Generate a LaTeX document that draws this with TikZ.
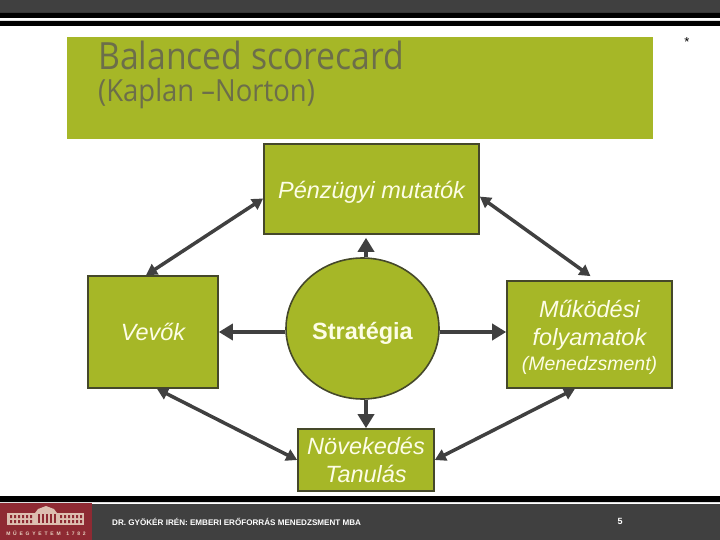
\documentclass[tikz,border=0pt]{standalone}
\usepackage{fontspec}
\setmainfont{Liberation Sans}
\newfontfamily\titlefont[FakeStretch=0.9]{Open Sans}
\usetikzlibrary{arrows.meta,shapes.geometric}
\definecolor{olive}{HTML}{A6B727}
\definecolor{rim}{HTML}{45482A}
\definecolor{bar}{HTML}{404040}
\definecolor{wine}{HTML}{8E2A33}
\definecolor{cream}{HTML}{FDFDE6}
\definecolor{titlegray}{HTML}{6C6E4A}
\begin{document}
\begin{tikzpicture}[x=1pt,y=-1pt,
    box/.style={draw=rim,line width=1.6pt,fill=olive,text=cream,inner sep=0pt,align=center,font=\itshape\fontsize{23.5}{28}\selectfont},
    big/.style={draw=bar,line width=4pt,-{Triangle[length=14pt,width=16pt]}},
    both/.style={draw=bar,line width=3.5pt,{Triangle[length=11pt,width=12pt]}-{Triangle[length=11pt,width=12pt]}}]
  \useasboundingbox (0,0) rectangle (720,540);
  % bars
  \fill[bar] (0,0) rectangle (720,13);
  \fill[black] (0,13) rectangle (720,18) (0,21) rectangle (720,26) (0,496) rectangle (720,502);
  \fill[bar] (0,504) rectangle (720,540);
  \fill[wine] (0,503) rectangle (92,540);
  % logo
  \fill[cream!70!wine] (7,513) rectangle (84,525);
  \fill[cream!70!wine] (35,513) -- (38,509) -- (46,506) -- (54,509) -- (57,513) -- cycle;
  \foreach \x in {10,14,...,30,60,64,...,80}
    \fill[wine] (\x,515) rectangle +(2,3) (\x,520) rectangle +(2,3);
  \foreach \x in {38,42,...,54}
    \fill[wine] (\x,514) rectangle +(2,9);
  \node[text=cream!80!wine,font=\bfseries\fontsize{5}{6}\selectfont] (logotext) at (46,533) {M \ Ű \ E \ G \ Y \ E \ T \ E \ M \ \ \ 1 \ 7 \ 8 \ 2};
  % title
  \fill[olive] (67,37) rectangle (653,139);
  \node[anchor=base west,text=titlegray,inner sep=0pt,font=\titlefont\fontsize{37.5}{37}\selectfont] (title) at (98,70) {Balanced scorecard};
  \node[anchor=base west,text=titlegray,inner sep=0pt,font=\titlefont\fontsize{30.5}{30}\selectfont] (subtitle) at (98,102) {(Kaplan –Norton)};
  \node[font=\fontsize{13}{13}\selectfont] (star) at (687,42) {*};
  % boxes
  \node[box,minimum width=215pt,minimum height=90pt] (penz) at (371.5,189) {\rule{0pt}{24pt}Pénzügyi mutatók};
  \node[box,minimum width=130pt,minimum height=112pt] (vevok) at (153,332) {Vevők};
  \node[box,minimum width=165pt,minimum height=107pt] (mukodes) at (589.5,334.5) {\rule{0pt}{24pt}Működési\\folyamatok\\[-3pt]{\fontsize{19.5}{22}\selectfont (Menedzsment)}};
  \node[box,minimum width=136pt,minimum height=62pt] (novekedes) at (366,460) {Növekedés\\Tanulás};
  \node[draw=rim,line width=1.6pt,fill=olive,text=cream,ellipse,minimum width=153pt,minimum height=141pt,inner sep=0pt,font=\bfseries\fontsize{23.5}{24}\selectfont] (strat) at (362.5,328.5) {\rule{0pt}{26pt}Stratégia};
  % arrows
  \draw[big,shorten >=3pt] (novekedes.north |- strat.north) -- (novekedes.north |- penz.south);
  \draw[big] (strat.west |- vevok.east) -- (vevok.east);
  \draw[big] (strat.east |- vevok.east) -- (mukodes.west |- vevok.east);
  \draw[big] (novekedes.north |- strat.south) -- (novekedes.north);
  \draw[both] (penz.185) -- (vevok.97);
  \draw[both,shorten >=7pt] (penz.-4) -- (mukodes.83);
  \draw[both] (vevok.-86) -- (novekedes.west);
  \draw[both] (mukodes.-105) -- (novekedes.east);
  % footer
  \node[anchor=west,text=white,inner sep=0pt,font=\bfseries\fontsize{8.1}{9}\selectfont] (footer) at (112,522) {DR. GYÖKÉR IRÉN: EMBERI ERŐFORRÁS MENEDZSMENT MBA};
  \node[text=white,font=\bfseries\fontsize{9}{9}\selectfont] (pagenum) at (620,521) {5};
\end{tikzpicture}
\end{document}
